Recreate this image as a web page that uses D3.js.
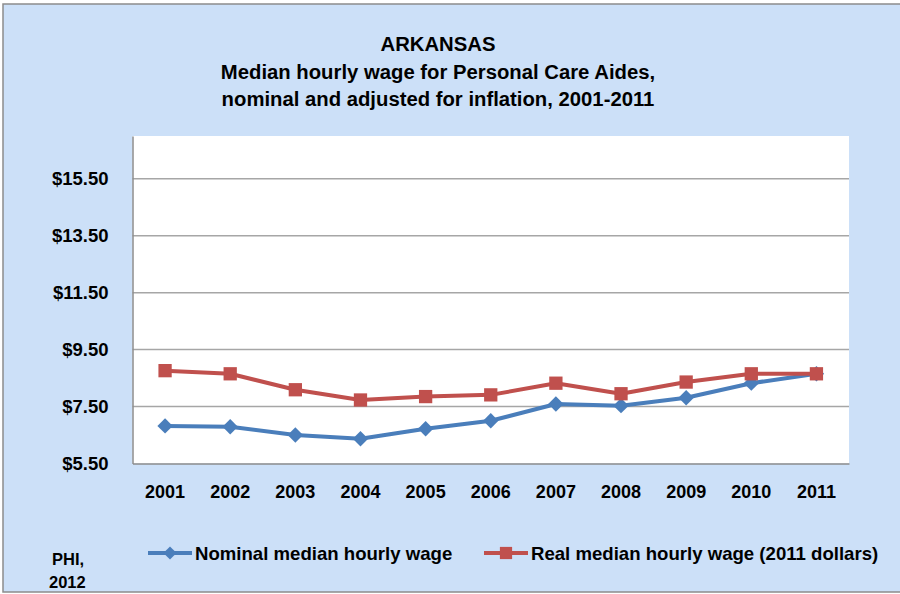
<!DOCTYPE html>
<html lang="en">
<head>
    <meta charset="UTF-8">
    <title>Arkansas Personal Care Aides wages</title>
    <script src="https://d3js.org/d3.v7.min.js"></script>
    <style>
        body { margin: 0; background: #fff; }
        svg text { font-family: "Liberation Sans", Arial, sans-serif; font-weight: bold; fill: #000; }
    </style>
</head>
<body>
<svg width="900" height="594"></svg>
<script>

    // data
    const years = ["2001", "2002", "2003", "2004", "2005", "2006", "2007", "2008", "2009", "2010", "2011"];
    const nominal = [6.82, 6.79, 6.50, 6.37, 6.72, 7.00, 7.59, 7.53, 7.81, 8.32, 8.65];
    const real = [8.76, 8.65, 8.09, 7.73, 7.85, 7.91, 8.32, 7.95, 8.36, 8.65, 8.65];
    const yTicks = [5.5, 7.5, 9.5, 11.5, 13.5, 15.5];
    const titleLines = ["ARKANSAS", "Median hourly wage for Personal Care Aides,", "nominal and adjusted for inflation, 2001-2011"];
    const legendNames = ["Nominal median hourly wage", "Real median hourly wage (2011 dollars)"];

    const blue = "#4a7ebb";
    const red = "#c0504d";

    const svg = d3.select("svg");

    // chart background + frame (right side runs off the page)
    svg.append("rect")
        .attr("x", 3).attr("y", 4)
        .attr("width", 920).attr("height", 588)
        .attr("fill", "#cce0f8")
        .attr("stroke", "#8c8c8c")
        .attr("stroke-width", 1.5);

    const plot = {left: 132.5, top: 136, right: 849, bottom: 463.5};

    svg.append("rect")
        .attr("x", plot.left).attr("y", plot.top)
        .attr("width", plot.right - plot.left)
        .attr("height", plot.bottom - plot.top)
        .attr("fill", "#fff");

    const x = d3.scaleBand()
        .domain(years)
        .range([plot.left, plot.right]);

    const y = d3.scaleLinear()
        .domain([5.5, 17.0])
        .range([plot.bottom, plot.top]);

    // gridlines
    svg.append("g")
        .selectAll("line")
        .data(yTicks.slice(1))
        .enter()
        .append("line")
        .attr("x1", plot.left).attr("x2", plot.right)
        .attr("y1", d => y(d)).attr("y2", d => y(d))
        .attr("stroke", "#a6a6a6")
        .attr("stroke-width", 1.5);

    // axes
    const yAxis = d3.axisLeft(y)
        .tickValues(yTicks)
        .tickSize(0)
        .tickPadding(24)
        .tickFormat(d => "$" + d3.format(".2f")(d));

    svg.append("g")
        .attr("transform", `translate(${plot.left},0)`)
        .call(yAxis)
        .call(g => g.select(".domain").attr("stroke", "#8c8c8c").attr("stroke-width", 1.5))
        .call(g => g.selectAll(".tick text")
            .attr("font-size", 18.5)
            .attr("font-family", "Liberation Sans, Arial, sans-serif")
            .attr("fill", "#000"));

    const xAxis = d3.axisBottom(x)
        .tickSize(0)
        .tickPadding(22);

    svg.append("g")
        .attr("transform", `translate(0,${plot.bottom})`)
        .call(xAxis)
        .call(g => g.select(".domain").attr("stroke", "#8c8c8c").attr("stroke-width", 1.5))
        .call(g => g.selectAll(".tick text")
            .attr("font-size", 18)
            .attr("font-family", "Liberation Sans, Arial, sans-serif")
            .attr("fill", "#000"));

    const cx = d => x(d) + x.bandwidth() / 2;

    const line = d3.line()
        .x((d, i) => cx(years[i]))
        .y(d => y(d));

    const diamond = d3.symbol().type(d3.symbolDiamond2).size(150);
    const square = d3.symbol().type(d3.symbolSquare2).size(225);

    // nominal series first, real series drawn over it (like excel)
    svg.append("path")
        .datum(nominal)
        .attr("d", line)
        .attr("fill", "none")
        .attr("stroke", blue)
        .attr("stroke-width", 4)
        .attr("stroke-linejoin", "round");

    svg.append("g")
        .selectAll("path")
        .data(nominal)
        .enter()
        .append("path")
        .attr("d", diamond)
        .attr("transform", (d, i) => `translate(${cx(years[i])},${y(d)})`)
        .attr("fill", blue);

    svg.append("path")
        .datum(real)
        .attr("d", line)
        .attr("fill", "none")
        .attr("stroke", red)
        .attr("stroke-width", 4)
        .attr("stroke-linejoin", "round");

    svg.append("g")
        .selectAll("path")
        .data(real)
        .enter()
        .append("path")
        .attr("d", square)
        .attr("transform", (d, i) => `translate(${cx(years[i])},${y(d)})`)
        .attr("fill", red);

    // title
    svg.append("g")
        .selectAll("text")
        .data(titleLines)
        .enter()
        .append("text")
        .attr("x", 438)
        .attr("y", (d, i) => 51 + i * 27.5)
        .attr("text-anchor", "middle")
        .attr("font-size", 20.3)
        .text(d => d);

    // legend
    const legend = svg.append("g");
    const legendX = [148, 484];
    const legendY = 553;

    legendX.forEach((lx, i) => {
        const col = i === 0 ? blue : red;
        legend.append("line")
            .attr("x1", lx).attr("x2", lx + 44)
            .attr("y1", legendY).attr("y2", legendY)
            .attr("stroke", col)
            .attr("stroke-width", 4);
        legend.append("path")
            .attr("d", i === 0 ? d3.symbol().type(d3.symbolDiamond2).size(110)() : d3.symbol().type(d3.symbolSquare2).size(190)())
            .attr("transform", `translate(${lx + 22},${legendY})`)
            .attr("fill", col);
        legend.append("text")
            .attr("x", lx + 47)
            .attr("y", legendY + 6.5)
            .attr("font-size", 18.6)
            .text(legendNames[i]);
    });

    // source note
    svg.append("text")
        .attr("x", 52).attr("y", 565)
        .attr("font-size", 16.5)
        .text("PHI,");
    svg.append("text")
        .attr("x", 49).attr("y", 588)
        .attr("font-size", 16.5)
        .text("2012");

</script>
</body>
</html>
